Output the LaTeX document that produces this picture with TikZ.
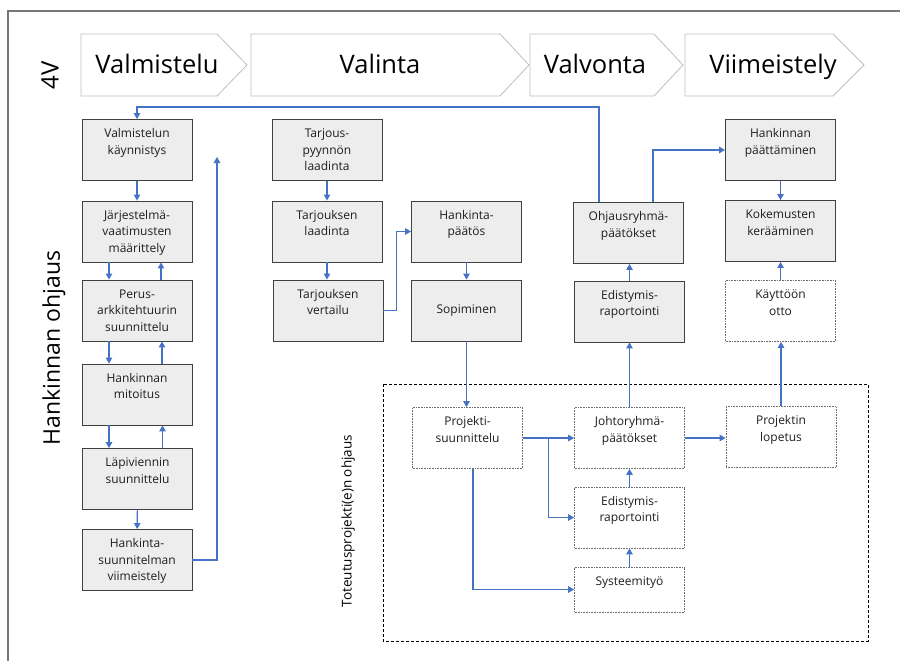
\documentclass[tikz,border=0pt]{standalone}
\usepackage{fontspec}
\setmainfont{Open Sans}
\usetikzlibrary{arrows.meta,calc}
\definecolor{flowblue}{RGB}{68,114,196}
\definecolor{boxgray}{RGB}{237,237,237}
\definecolor{edge}{RGB}{64,64,64}
\definecolor{dotgray}{RGB}{110,110,110}
\definecolor{chev}{RGB}{190,190,190}
\definecolor{frame}{RGB}{120,120,120}
\definecolor{ink}{RGB}{30,30,30}
\newcommand{\bt}[2][61]{\parbox[c][#1pt][t]{110pt}{\centering\rule{0pt}{18pt}#2}}
\tikzset{
  >={Triangle[length=6pt,width=6.5pt]},
  box/.style={draw=edge,fill=boxgray,line width=0.9pt,inner sep=0pt,text=ink,
    font=\fontsize{12}{16.7}\selectfont},
  dotbox/.style={box,draw=dotgray,fill=white,dash pattern=on 0.8pt off 0.8pt,line width=0.8pt},
  flow/.style={->,draw=flowblue,line width=1.1pt},
  phase/.style={draw=chev,line width=0.8pt},
  phasetext/.style={anchor=base,font=\fontsize{25.5}{30}\selectfont,text=black},
  sidetag/.style={rotate=90,text=black},
}

\begin{document}
\begin{tikzpicture}[x=1pt,y=-1pt]
  \useasboundingbox (0,0) rectangle (900,661);
  \draw[frame,line width=1.2pt] (8,661) -- (8,11) -- (900,11);

  % phases
  \foreach \l/\r/\p/\tx/\lbl [count=\i] in {
    81/217/247/157/Valmistelu,
    251/500/529/380/Valinta,
    530/654/683/595/Valvonta,
    685/833/864/773/Viimeistely}
  {
    \draw[phase] (\l,34) -- (\r,34) -- (\p,65) -- (\r,96) -- (\l,96) -- cycle;
    \node[phasetext] (ph\i) at (\tx,74) {\lbl};
  }
  \node[sidetag,font=\fontsize{24}{28}\selectfont] (fourv) at (50,75) {4V};
  \node[sidetag,font=\fontsize{23}{28}\selectfont] (hohj) at (54,348) {Hankinnan ohjaus};

  % valmistelu
  \node[box] (vk) at (137,150) {\bt{Valmistelun\\käynnistys}};
  \node[box] (jm) at (137,231.5) {\bt{Järjestelmä-\\vaatimusten\\määrittely}};
  \node[box] (pa) at (137,310.5) {\bt{Perus-\\arkkitehtuurin\\suunnittelu}};
  \node[box] (hm) at (137,394.5) {\bt{Hankinnan\\mitoitus}};
  \node[box] (ls) at (137.5,479) {\bt{Läpiviennin\\suunnittelu}};
  \node[box] (hs) at (137,560) {\bt{Hankinta-\\suunnitelman\\viimeistely}};

  % valinta
  \node[box] (tp) at (327,150) {\bt{Tarjous-\\pyynnön\\laadinta}};
  \node[box] (tl) at (327,231.5) {\bt{Tarjouksen\\laadinta}};
  \node[box] (tv) at (328,310.5) {\bt{Tarjouksen\\vertailu}};
  \node[box] (hp) at (466.5,231.5) {\bt{Hankinta-\\päätös}};
  \node[box,minimum width=110,minimum height=61] (so) at (466.5,310.5) {Sopiminen};

  % valvonta ja viimeistely
  \node[box] (op) at (628.5,233) {\bt{Ohjausryhmä-\\päätökset}};
  \node[box] (er) at (629.5,311.5) {\bt{Edistymis-\\raportointi}};
  \node[box] (hpa) at (780.5,150) {\bt{Hankinnan\\päättäminen}};
  \node[box] (kk) at (780.5,231) {\bt{Kokemusten\\kerääminen}};
  \node[dotbox] (ko) at (780.5,311) {\bt{Käyttöön\\otto}};

  % toteutusprojektit
  \draw[dashed,dash pattern=on 3pt off 2pt,line width=0.8pt] (383,384) rectangle (868,641);
  \node[sidetag,font=\fontsize{13.5}{16}\selectfont] (tohj) at (348,521) {Toteutusprojekti(e)n ohjaus};
  \node[dotbox] (ps) at (467.5,438) {\bt{Projekti-\\suunnittelu}};
  \node[dotbox] (jp) at (629.5,438) {\bt{Johtoryhmä-\\päätökset}};
  \node[dotbox] (pl) at (781,437) {\bt{Projektin\\lopetus}};
  \node[dotbox] (ei) at (629.5,517.5) {\bt{Edistymis-\\raportointi}};
  \node[dotbox] (sy) at (629.5,589.5) {\bt[45]{Systeemityö}};

  % connectors
  \coordinate (back) at (137,107);
  \coordinate (hsend) at (217,157);
  \draw[flow] (vk) -- (jm);
  \draw[flow] ([xshift=-28]jm.south) -- ([xshift=-28]pa.north);
  \draw[flow] ([xshift=24]pa.north) -- ([xshift=24]jm.south);
  \draw[flow] ([xshift=-28]pa.south) -- ([xshift=-28]hm.north);
  \draw[flow] ([xshift=25]hm.north) -- ([xshift=25]pa.south);
  \draw[flow] ([xshift=-28]hm.south) -- ([xshift=-28.5]ls.north);
  \draw[flow] ([xshift=25]ls.north) -- ([xshift=25.5]hm.south);
  \draw[flow] (ls) -- (hs);
  \draw[flow] (hs.east) -| (hsend);
  \draw[flow] ([xshift=-29.5]op.north) |- (back) -- (vk.north);

  \draw[flow] (tp) -- (tl);
  \draw[flow] (tl.south) -- (tl.south |- tv.north);
  \draw[flow] (tv.east) -- ++(13,0) |- (hp.west);
  \draw[flow] (hp) -- (so);
  \draw[flow] (so.south) -- (so.south |- ps.north);

  \draw[flow] (er.north) -- (er.north |- op.south);
  \draw[flow] ([xshift=24.5]op.north) |- (hpa.west);
  \draw[flow] (hpa) -- (kk);
  \draw[flow] (ko) -- (kk);

  \draw[flow] (ps.east) -- (jp.west);
  \draw[flow] ($(ps.east)!0.5!(jp.west)$) |- (ei.west);
  \draw[flow] ([xshift=5.5]ps.south) |- (sy.west);
  \draw[flow] (jp.east) -- (jp.east -| pl.west);
  \draw[flow] (sy) -- (ei);
  \draw[flow] (ei) -- (jp);
  \draw[flow] (jp.north) -- (jp.north |- er.south);
  \draw[flow] (pl.north) -- (pl.north |- ko.south);
\end{tikzpicture}
\end{document}
